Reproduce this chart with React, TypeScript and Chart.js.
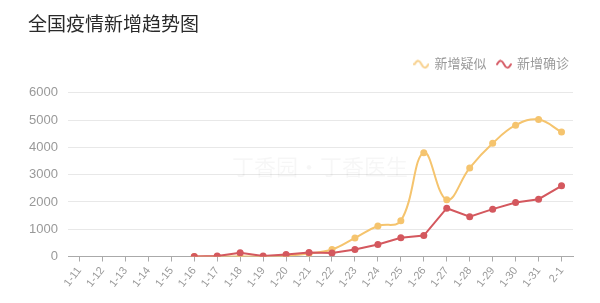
import React, { useEffect, useRef } from "react";
import { Chart, registerables } from "chart.js";

Chart.register(...registerables);

const categories = [
  "1-11", "1-12", "1-13", "1-14", "1-15", "1-16", "1-17", "1-18", "1-19", "1-20", "1-21",
  "1-22", "1-23", "1-24", "1-25", "1-26", "1-27", "1-28", "1-29", "1-30", "1-31", "2-1",
];
const suspected = [
  null, null, null, null, null, 0, 0, 0, 0, 30, 110,
  257, 680, 1118, 1309, 3806, 2077, 3248, 4148, 4812, 5019, 4562,
];
const confirmed = [
  null, null, null, null, null, 4, 17, 136, 19, 77, 149,
  131, 259, 444, 688, 769, 1771, 1459, 1737, 1982, 2102, 2590,
];
const yTicks = [0, 1000, 2000, 3000, 4000, 5000, 6000];
const titleText = "全国疫情新增趋势图";
const watermarkText = "丁香园·丁香医生";

const YELLOW = "#f5c46e";
const RED = "#d4585e";
const FONT = "'Liberation Sans', 'Noto Sans CJK SC', sans-serif";

function waveIcon(color: string) {
  const c = document.createElement("canvas");
  c.width = 16;
  c.height = 10;
  const ctx = c.getContext("2d")!;
  ctx.strokeStyle = color;
  ctx.lineWidth = 2;
  ctx.lineCap = "round";
  ctx.beginPath();
  ctx.moveTo(1, 5);
  ctx.bezierCurveTo(4, 0, 6, 1, 8, 5);
  ctx.bezierCurveTo(10, 9, 12, 10, 15, 5);
  ctx.stroke();
  return c;
}

const legendIcons = [waveIcon("#f7cf8a"), waveIcon("#d65c66")];

const watermark = {
  id: "watermark",
  beforeDatasetsDraw(chart: any) {
    const ctx = chart.ctx;
    ctx.save();
    ctx.fillStyle = "rgba(0,0,0,0.035)";
    ctx.font = `22px 'Noto Sans CJK SC', sans-serif`;
    ctx.textBaseline = "middle";
    ctx.fillText(watermarkText, 232, 167);
    ctx.restore();
  },
};

const legendSpace = {
  id: "legendSpace",
  beforeInit(chart: any) {
    const lg = chart.legend;
    if (!lg) return;
    const orig = lg.fit;
    lg.fit = function () {
      orig.call(this);
      this.height += 12;
    };
  },
  afterLayout(chart: any) {
    const lg = chart.legend;
    if (!lg) return;
    lg.left += 7;
    lg.right += 7;
  },
};

export default function App() {
  const ref = useRef<HTMLCanvasElement | null>(null);
  useEffect(() => {
    document.body.style.margin = "0";
    const chart = new Chart(ref.current!, {
      type: "line",
      data: {
        labels: categories,
        datasets: [
          {
            label: "新增疑似",
            data: suspected,
            borderColor: YELLOW,
            backgroundColor: YELLOW,
            borderWidth: 2,
            pointRadius: 3.5,
            pointBorderWidth: 0,
            tension: 0.4,
            order: 1,
          },
          {
            label: "新增确诊",
            data: confirmed,
            borderColor: RED,
            backgroundColor: RED,
            borderWidth: 2,
            pointRadius: 3.5,
            pointBorderWidth: 0,
            tension: 0,
            order: 0,
          },
        ],
      },
      options: {
        animation: false,
        responsive: false,
        layout: { padding: { left: 28, right: 27, top: 14, bottom: 10 } },
        plugins: {
          title: {
            display: true,
            text: titleText,
            align: "start",
            color: "#2a2a2a",
            font: { family: FONT, size: 19, weight: "normal" },
            padding: { top: 0, bottom: 10 },
          },
          legend: {
            align: "end",
            labels: {
              usePointStyle: true,
              color: "#999",
              font: { family: FONT, size: 13 },
              padding: 11,
              sort: (a: any, b: any) => a.datasetIndex - b.datasetIndex,
              generateLabels: (chart: any) => {
                const items = Chart.defaults.plugins.legend.labels.generateLabels(chart);
                return items.map((it: any) => ({ ...it, pointStyle: legendIcons[it.datasetIndex] }));
              },
            },
          },
          tooltip: { enabled: false },
        },
        scales: {
          x: {
            offset: true,
            afterFit: (axis: any) => {
              axis.paddingLeft = 0;
              axis.paddingRight = 0;
            },
            grid: {
              display: true,
              drawOnChartArea: false,
              offset: false,
              tickLength: 5,
              color: "#aaa",
            },
            border: { display: true, color: "#aaa", width: 1 },
            ticks: {
              color: "#999",
              font: { family: FONT, size: 11 },
              minRotation: 52,
              maxRotation: 52,
              autoSkip: false,
              padding: 3,
            },
          },
          y: {
            min: 0,
            max: 6000,
            afterBuildTicks: (axis: any) => {
              axis.ticks = yTicks.map((v) => ({ value: v }));
            },
            afterFit: (axis: any) => {
              axis.width = 40;
            },
            grid: { color: "#e8e8e8", drawTicks: false, tickLength: 0 },
            border: { display: false },
            ticks: {
              color: "#999",
              font: { family: FONT, size: 13 },
              padding: 10,
              callback: (v: any) => String(v),
            },
          },
        },
      },
      plugins: [watermark, legendSpace],
    } as any);
    return () => chart.destroy();
  }, []);
  return (
    <div style={{ width: 600, height: 303, background: "#fff" }}>
      <canvas ref={ref} width={600} height={303} style={{ display: "block" }} />
    </div>
  );
}
